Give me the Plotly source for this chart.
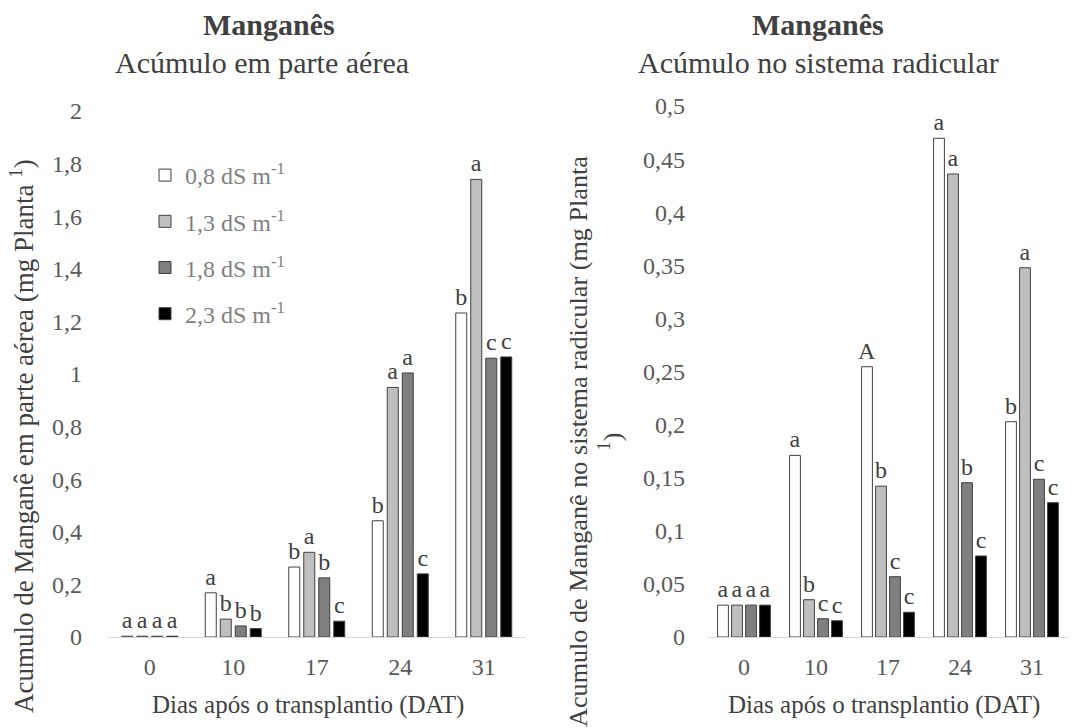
import plotly.graph_objects as go

# ---------------- data ----------------
days = ["0", "10", "17", "24", "31"]
series_names = ["0,8 dS m<sup>-1</sup>", "1,3 dS m<sup>-1</sup>",
                "1,8 dS m<sup>-1</sup>", "2,3 dS m<sup>-1</sup>"]

aerea_08 = [0.003, 0.168, 0.266, 0.442, 1.232]
aerea_13 = [0.003, 0.068, 0.322, 0.949, 1.740]
aerea_18 = [0.003, 0.042, 0.225, 1.004, 1.060]
aerea_23 = [0.003, 0.032, 0.060, 0.240, 1.065]

aerea_lbl_08 = ["a", "a", "b", "b", "b"]
aerea_lbl_13 = ["a", "b", "a", "a", "a"]
aerea_lbl_18 = ["a", "b", "b", "a", "c"]
aerea_lbl_23 = ["a", "b", "c", "c", "c"]

raiz_08 = [0.030, 0.171, 0.2545, 0.4696, 0.2027]
raiz_13 = [0.030, 0.0351, 0.142, 0.436, 0.3477]
raiz_18 = [0.030, 0.0172, 0.0568, 0.1453, 0.1485]
raiz_23 = [0.030, 0.0153, 0.0233, 0.0763, 0.1265]

raiz_lbl_08 = ["a", "a", "A", "a", "b"]
raiz_lbl_13 = ["a", "b", "b", "a", "a"]
raiz_lbl_18 = ["a", "c", "c", "b", "c"]
raiz_lbl_23 = ["a", "c", "c", "c", "c"]

left_tick_vals = [0, 0.2, 0.4, 0.6, 0.8, 1.0, 1.2, 1.4, 1.6, 1.8, 2.0]
left_tick_text = ["0", "0,2", "0,4", "0,6", "0,8", "1", "1,2", "1,4", "1,6", "1,8", "2"]
right_tick_vals = [0, 0.05, 0.1, 0.15, 0.2, 0.25, 0.3, 0.35, 0.4, 0.45, 0.5]
right_tick_text = ["0", "0,05", "0,1", "0,15", "0,2", "0,25", "0,3", "0,35", "0,4", "0,45", "0,5"]

# ---------------- style ----------------
FONT = "'Liberation Serif', 'Times New Roman', 'DejaVu Serif', serif"
TXT = "#404040"
TICK = "#595959"
fills = ["#ffffff", "#bfbfbf", "#7f7f7f", "#000000"]
W, H = 1082, 728

aerea = [aerea_08, aerea_13, aerea_18, aerea_23]
aerea_lbl = [aerea_lbl_08, aerea_lbl_13, aerea_lbl_18, aerea_lbl_23]
raiz = [raiz_08, raiz_13, raiz_18, raiz_23]
raiz_lbl = [raiz_lbl_08, raiz_lbl_13, raiz_lbl_18, raiz_lbl_23]

fig = go.Figure()

def add_bars(values, labels, xa, ya, slot, w, show):
    for i in range(4):
        off = -2 * slot + i * slot + (slot - w) / 2
        fig.add_trace(go.Bar(
            x=days, y=values[i], text=labels[i], name=series_names[i],
            xaxis=xa, yaxis=ya, width=w, offset=off,
            marker=dict(color=fills[i], line=dict(color="#404040", width=1)),
            textposition="outside", constraintext="none", cliponaxis=False,
            textfont=dict(family=FONT, size=24, color=TXT),
            showlegend=show, legendgroup=str(i), hoverinfo="skip",
        ))

add_bars(aerea, aerea_lbl, "x", "y", 15 / 83.5, 11 / 83.5, True)
add_bars(raiz, raiz_lbl, "x2", "y2", 14 / 72, 10.8 / 72, False)

ybot = 1 - 637 / H
axis_common = dict(type="category", showgrid=False, zeroline=False, showline=True,
                   linecolor="#d9d9d9", linewidth=1, ticks="", automargin=False,
                   tickfont=dict(family=FONT, size=24, color=TICK), ticklabelstandoff=8)
yaxis_common = dict(showgrid=False, zeroline=False, showline=False, ticks="", automargin=False,
                    tickfont=dict(family=FONT, size=24, color=TICK))

fig.update_layout(
    width=W, height=H, barmode="overlay",
    paper_bgcolor="white", plot_bgcolor="white",
    margin=dict(l=0, r=0, t=0, b=0, autoexpand=False),
    font=dict(family=FONT, color=TXT),
    xaxis=dict(domain=[108 / W, 525.5 / W], anchor="y", **axis_common),
    xaxis2=dict(domain=[708 / W, 1068 / W], anchor="y2", **axis_common),
    yaxis=dict(domain=[ybot, 1 - 111 / H], anchor="x", range=[0, 2], ticklabelstandoff=25,
               tickvals=left_tick_vals, ticktext=left_tick_text, **yaxis_common),
    yaxis2=dict(domain=[ybot, 1 - 106 / H], anchor="x2", range=[0, 0.5], ticklabelstandoff=22,
                tickvals=right_tick_vals, ticktext=right_tick_text, **yaxis_common),
    legend=dict(x=145 / W, y=1 - 153 / H, xanchor="left", yanchor="top",
                font=dict(family=FONT, size=24, color="#808080"),
                bgcolor="rgba(0,0,0,0)", tracegroupgap=12, traceorder="grouped"),
    showlegend=True,
)

def ann(text, x, y, size, angle=0):
    fig.add_annotation(text=text, x=x / W, y=1 - y / H, xref="paper", yref="paper",
                       showarrow=False, textangle=angle, xanchor="center", yanchor="middle",
                       font=dict(family=FONT, size=size, color=TXT))

ann("<b>Manganês</b>", 269, 25, 30)
ann("Acúmulo em parte aérea", 262, 62, 30)
ann("<b>Manganês</b>", 818, 25, 30)
ann("Acúmulo no sistema radicular", 818, 62, 30)
ann("Dias após o transplantio (DAT)", 308, 705, 25)
ann("Dias após o transplantio (DAT)", 884, 705, 25)
ann("Acumulo de Manganê em parte aérea (mg Planta <sup>1</sup>)", 22, 436, 27, angle=-90)
ann("Acumulo de Manganê no sistema radicular (mg Planta<br><sup>1</sup>)", 596, 442, 26.2, angle=-90)

fig.write_html("out.html", config={"displayModeBar": False},
               post_script="document.body.style.margin='0';")
